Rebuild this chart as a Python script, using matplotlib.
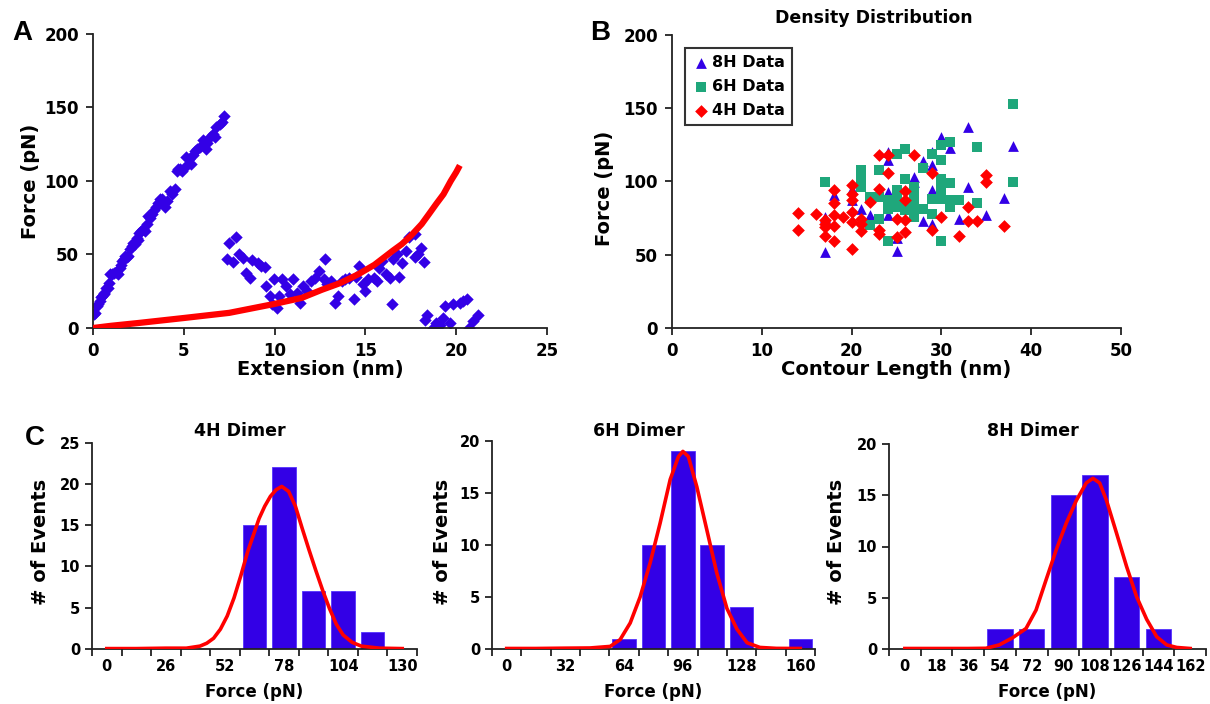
import numpy as np
import matplotlib.pyplot as plt

W, H = 1210, 704

def fx(x):
    return x / W

def fy(y):
    return 1 - y / H

# ---- panel A: force vs extension ----
ext_blue = [0.05, 0.13, 0.22, 0.3, 0.36, 0.45, 0.49, 0.58, 0.62, 0.73, 0.8, 0.86, 0.95, 1.05, 1.13,
            1.25, 1.35, 1.46, 1.52, 1.59, 1.68, 1.77, 1.86, 1.95, 2.04, 2.13, 2.23, 2.32, 2.4, 2.48,
            2.55, 2.65, 2.74, 2.85, 2.96, 3.05, 3.14, 3.23, 3.35, 3.47, 3.58, 3.69, 3.8, 3.96, 4.09,
            4.23, 4.35, 4.5, 4.6, 4.7, 4.78, 4.9, 5.05, 5.14, 5.3, 5.42, 5.5, 5.6, 5.75, 5.88,
            6.06, 6.2, 6.3, 6.42, 6.6, 6.7, 6.79, 6.97, 7.08, 7.19,
            7.38, 7.48, 7.87, 7.72, 8.03, 8.27, 8.4, 8.66, 8.76, 9.06, 9.25, 9.45, 9.55, 9.74, 9.84,
            9.94, 10.14, 10.24, 10.43, 10.63, 10.83, 11.02, 11.22, 11.42, 11.57, 11.81, 12.0, 12.2,
            12.44, 12.7, 12.8, 12.9, 13.1, 13.3, 13.5, 13.7, 13.9, 14.07, 14.37, 14.47, 14.67, 14.86,
            14.96, 15.16, 15.45, 15.65, 15.75, 15.94, 16.14, 16.34, 16.44, 16.53, 16.73, 16.83, 17.03,
            17.22, 17.42, 17.72, 17.72, 17.9, 18.07, 18.2, 18.3, 18.4, 18.7, 18.9, 19.1, 19.3, 19.4,
            19.65, 19.8, 20.2, 20.4, 20.6, 20.7, 20.9, 21.2]
force_blue = [9.5, 10.3, 14.8, 16.5, 18.2, 21, 21.6, 23, 23.9, 27.3, 27, 30.8, 36.4, 37, 37.6,
              38, 36.4, 41, 43, 45.6, 47, 49, 48, 49, 53.5, 56, 58, 57, 61.5, 60,
              64.9, 66, 67.2, 66, 70.6, 76.3, 75, 77.4, 80, 82, 85, 87.7, 88, 82, 86.6,
              93.4, 91, 94.5, 107, 108, 108.2, 107, 109.3, 116.2, 115, 111.6, 118, 120.7, 122, 123,
              127.6, 121.9, 126, 129.8, 132.1, 130, 136.7, 139, 140, 144,
              46.7, 57.5, 61.6, 45, 50, 47.4, 37.6, 34.2, 46, 44.5, 42, 41.5, 28.5, 21.7, 16,
              33, 13.7, 21.7, 33, 28.5, 22.8, 33, 24, 17, 28.5, 25, 32, 34,
              38.8, 33, 46.7, 29.6, 32, 17, 21.7, 32, 33, 34.2, 19.4, 35, 42, 29.6,
              25, 33, 34, 32, 41, 45.6, 36.5, 34, 16, 46.7, 50, 35, 44.5,
              52.5, 61.6, 64, 48, 50, 54.7, 45, 5.7, 9, 0, 3.4, 2.3, 6.8, 14.8,
              3.4, 16, 17, 18.2, 19.4, 0, 4.6, 9]
wlc_x = [0, 1, 2.5, 5, 7.5, 10, 11.5, 12.6, 13.6, 14.6, 15.5, 16.5, 17.0, 17.5, 18.1,
         18.5, 18.9, 19.3, 19.7, 20.0, 20.2]
wlc_y = [0, 1.5, 3.4, 6.8, 10.3, 16.4, 20.5, 26, 30.5, 36.5, 43, 52.5, 57, 62.7, 70.7,
         77.5, 84.4, 91, 100, 106, 110.6]

# ---- panel B: contour length vs force ----
len_8h = [17, 17, 18, 20, 20, 21, 22, 24, 24, 24, 24, 25, 25, 25, 27, 27, 28, 28, 29, 29,
          29, 29, 30, 31, 32, 33, 33, 35, 37, 38]
f_8h = [75.7, 51.7, 90.6, 95.2, 87.6, 81.5, 77, 120.4, 114.6, 93, 77, 89.5, 52.4, 61.6, 103,
        99.8, 114, 72.8, 120.4, 111, 94, 70.7, 130.7, 122.7, 74.6, 137.5, 96.3, 77, 89, 124.5]
len_6h = [17, 21, 21, 21, 22, 22, 23, 23, 23, 24, 24, 24, 25, 25, 25, 25, 25, 26, 26, 26,
          26, 27, 27, 27, 27, 27, 28, 28, 29, 29, 29, 30, 30, 30, 30, 30, 30, 31, 31, 31,
          31, 32, 34, 34, 38, 38]
f_6h = [99.8, 108, 101, 96.3, 89.5, 70, 107.8, 89.5, 74.6, 87.2, 81.5, 59.7, 119, 94, 87,
        82.6, 90.6, 122, 102, 83.8, 80.3, 91.8, 87.2, 81.5, 75.7, 96.3, 109, 81.5, 119, 88.3,
        78, 125, 114.6, 102, 95.2, 88.3, 59.7, 127, 99, 87.2, 82.6, 87.2, 123.8, 85, 152.9, 99.8]
len_4h = [14, 14, 16, 17, 17, 17, 17, 18, 18, 18, 18, 18, 19, 20, 20, 20, 20, 20, 20, 21,
          21, 21, 22, 23, 23, 23, 23, 24, 24, 25, 25, 26, 26, 26, 26, 27, 29, 29, 30, 32,
          33, 33, 34, 35, 35, 37]
f_4h = [78.7, 66.6, 78, 73.5, 69, 62.7, 71, 94, 85, 77, 69.3, 59.7, 75.7, 97.5, 91.8, 87.6,
        79.2, 72.3, 54, 74.6, 71.2, 66, 86, 118, 95.2, 66.6, 64.3, 118, 105.5, 74.6, 62,
        93.4, 87.6, 73.5, 65.4, 118, 105.5, 67, 75.7, 63, 82.6, 73, 73, 104.3, 99.8, 69.6]

# ---- panel C: histograms with fits ----
bins_4h = [0, 13, 26, 39, 52, 65, 78, 91, 104, 117, 130]
counts_4h = [0, 0, 0, 0, 0, 15, 22, 7, 7, 2, 0]
fit4_x = [0, 13, 26, 35, 41, 44, 47, 50, 53, 56, 59, 62, 65, 67, 69.5, 72, 74.5, 77, 80,
          83, 86, 89, 92, 95, 98, 101, 104, 108, 112, 120, 130]
fit4_y = [0.05, 0.05, 0.1, 0.1, 0.35, 0.7, 1.3, 2.4, 4.0, 6.2, 8.9, 11.8, 14.2, 15.8, 17.3,
          18.5, 19.3, 19.7, 19.1, 17.3, 14.6, 12.0, 9.5, 7.1, 4.9, 3.0, 1.7, 0.8, 0.35, 0.1,
          0.05]

bins_6h = [0, 16, 32, 48, 64, 80, 96, 112, 128, 144, 160]
counts_6h = [0, 0, 0, 0, 1, 10, 19, 10, 4, 0, 1]
fit6_x = [0, 16, 32, 45.5, 56.4, 61.8, 67.3, 72.7, 78.2, 83.6, 89.1, 93.6, 96, 99, 103.6,
          109, 114.5, 120, 125.5, 131, 138, 147, 160]
fit6_y = [0.05, 0.05, 0.08, 0.1, 0.25, 0.9, 2.5, 5, 8.3, 12.1, 16.3, 18.5, 19, 18.5, 15.6,
          11.5, 7.3, 3.9, 1.9, 0.6, 0.15, 0.06, 0.05]

bins_8h = [0, 18, 36, 54, 72, 90, 108, 126, 144, 162]
counts_8h = [0, 0, 0, 2, 2, 15, 17, 7, 2, 0]
fit8_x = [0, 18, 36, 46, 53.6, 61.2, 68.8, 74.5, 80.2, 86, 91.7, 97.4, 103, 106.8, 110.6,
          114.5, 120.2, 125.9, 131.6, 137.3, 143, 148.7, 154.4, 162]
fit8_y = [0.05, 0.05, 0.05, 0.07, 0.4, 1.1, 2, 3.8, 6.75, 9.7, 12.3, 14.5, 16.2, 16.65, 16.2,
          14.5, 11.3, 8.05, 5.1, 2.9, 1.2, 0.4, 0.15, 0.05]

BLUE = '#3300e6'
RED = '#ff0000'
GREEN = '#1fa77b'
FONT = 'DejaVu Sans'

plt.rcParams['font.family'] = FONT
plt.rcParams['font.weight'] = 'bold'

fig = plt.figure(figsize=(W / 100, H / 100), dpi=100)


def style_axes(ax, fs, pad=3.5):
    for s in ['top', 'right']:
        ax.spines[s].set_visible(False)
    for s in ['left', 'bottom']:
        ax.spines[s].set_linewidth(1.3)
        ax.spines[s].set_color('#222222')
    ax.tick_params(direction='out', length=5, width=1.3, color='#222222', labelsize=fs, pad=pad)
    for lab in ax.get_xticklabels() + ax.get_yticklabels():
        lab.set_fontweight('bold')


def axes_px(left, top, right, bottom):
    return fig.add_axes([fx(left), fy(bottom), fx(right - left), (bottom - top) / H])


# panel A
axA = axes_px(93, 34, 547, 328)
axA.scatter(ext_blue, force_blue, marker='D', s=40, color=BLUE, linewidths=0, zorder=2)
axA.plot(wlc_x, wlc_y, color=RED, lw=4.5, solid_capstyle='butt', zorder=3)
axA.set_xlim(0, 25)
axA.set_ylim(0, 200)
axA.set_xticks(range(0, 26, 5))
axA.set_yticks(range(0, 201, 50))
style_axes(axA, 12, pad=5)

# panel B
axB = axes_px(672, 35, 1121, 328)
axB.scatter(len_8h, f_8h, marker='^', s=60, color=BLUE, linewidths=0, label='8H Data', zorder=2)
axB.scatter(len_6h, f_6h, marker='s', s=50, color=GREEN, linewidths=0, label='6H Data', zorder=3)
axB.scatter(len_4h, f_4h, marker='D', s=42, color=RED, linewidths=0, label='4H Data', zorder=4)
axB.set_xlim(0, 50)
axB.set_ylim(0, 200)
axB.set_xticks(range(0, 51, 10))
axB.set_yticks(range(0, 201, 50))
style_axes(axB, 12, pad=5)
leg = axB.legend(loc='upper left', bbox_to_anchor=(0.03, 0.955), frameon=True, fancybox=False,
                 edgecolor='black', prop={'family': FONT, 'weight': 'bold', 'size': 11.5},
                 handletextpad=0.2, handlelength=1.0, borderpad=0.45, labelspacing=0.55,
                 borderaxespad=0)
leg.get_frame().set_linewidth(1.5)

# panel C
hists = [
    ('4H Dimer', bins_4h, counts_4h, fit4_x, fit4_y, (92, 442.7, 417, 649), 25, 2, 40),
    ('6H Dimer', bins_6h, counts_6h, fit6_x, fit6_y, (492, 441, 815, 649), 20, 2, 442),
    ('8H Dimer', bins_8h, counts_8h, fit8_x, fit8_y, (889, 444, 1206, 649), 20, 1, 837),
]
for title, bins, counts, fit_x, fit_y, box, ymax, every, ylab_x in hists:
    ax = axes_px(*box)
    step = bins[1] - bins[0]
    ax.bar(bins, counts, width=step * 0.8, color=BLUE, edgecolor='#5533ff', linewidth=0.6, zorder=2)
    ax.plot(fit_x, fit_y, color=RED, lw=2.6, zorder=3, solid_joinstyle='round')
    ax.set_xlim(bins[0] - step / 2, bins[-1] + step / 2)
    ax.set_ylim(0, ymax)
    ax.set_yticks(range(0, ymax + 1, 5))
    ax.set_xticks(bins[::every])
    ax.set_xticks([b - step / 2 for b in bins] + [bins[-1] + step / 2], minor=True)
    style_axes(ax, 10.5)
    ax.tick_params(axis='x', which='major', length=0, pad=7)
    ax.tick_params(axis='x', which='minor', direction='out', length=5, width=1.3, color='#222222')
    cx = (box[0] + box[2]) / 2
    fig.text(fx(cx - 15), fy(431), title, ha='center', va='center', fontsize=12.5, fontweight='bold')
    fig.text(fx(cx), fy(692), 'Force (pN)', ha='center', va='center', fontsize=12, fontweight='bold')
    fig.text(fx(ylab_x), fy(542), '# of Events', ha='center', va='center', rotation=90,
             fontsize=14, fontweight='bold')

# axis labels and titles for A and B
fig.text(fx(320), fy(370), 'Extension (nm)', ha='center', va='center', fontsize=14, fontweight='bold')
fig.text(fx(30), fy(181), 'Force (pN)', ha='center', va='center', rotation=90, fontsize=14,
         fontweight='bold')
fig.text(fx(896), fy(370), 'Contour Length (nm)', ha='center', va='center', fontsize=14,
         fontweight='bold')
fig.text(fx(604), fy(188), 'Force (pN)', ha='center', va='center', rotation=90, fontsize=14,
         fontweight='bold')
fig.text(fx(874), fy(18), 'Density Distribution', ha='center', va='center', fontsize=12.5,
         fontweight='bold')

# panel letters
for letter, x, y in [('A', 22, 33), ('B', 600, 33), ('C', 35, 438)]:
    fig.text(fx(x), fy(y), letter, ha='center', va='center', fontsize=20, fontweight='bold',
             family='Liberation Sans')

fig.savefig('out.png', dpi=100)
